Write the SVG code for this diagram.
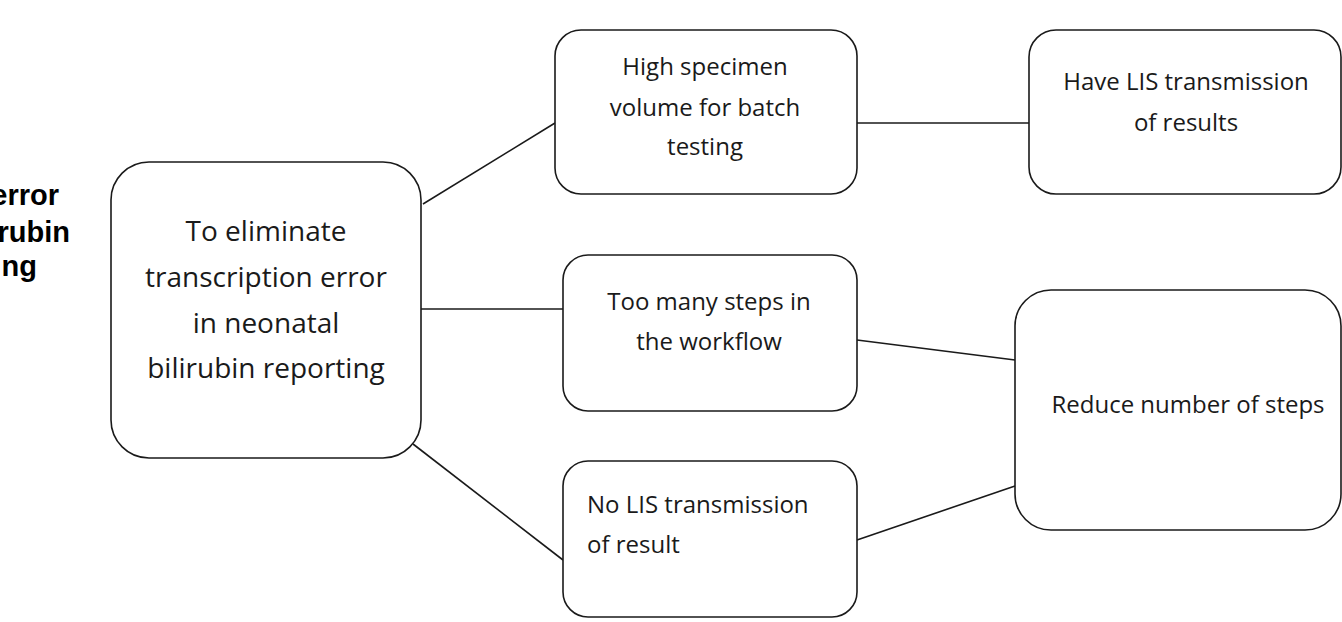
<svg xmlns="http://www.w3.org/2000/svg" width="1342" height="622" viewBox="0 0 1342 622">
<style>
.box{fill:#ffffff;stroke:#1a1a1a;stroke-width:1.6}
.conn{stroke:#1a1a1a;stroke-width:1.6;fill:none}
.t{font-family:"Open Sans","DejaVu Sans",sans-serif;fill:#1a1a1a;font-size:24px}
.tm{font-family:"Open Sans","DejaVu Sans",sans-serif;fill:#1a1a1a;font-size:28px;text-anchor:middle}
.c{text-anchor:middle}
.side{font-family:"Liberation Sans",Arial,sans-serif;font-weight:bold;font-size:29px;fill:#000;text-anchor:end}
</style>
<rect width="1342" height="622" fill="#ffffff"/>
<g id="side-title">
<text class="side" x="59" y="205">error</text>
<text class="side" x="70" y="242">rubin</text>
<text class="side" x="37" y="276">ng</text>
</g>
<g id="connectors">
<line class="conn" x1="423" y1="204" x2="555" y2="123"/>
<line class="conn" x1="421" y1="309" x2="563" y2="309"/>
<line class="conn" x1="413" y1="444" x2="563" y2="560"/>
<line class="conn" x1="857" y1="123" x2="1029" y2="123"/>
<line class="conn" x1="857" y1="340" x2="1015" y2="360"/>
<line class="conn" x1="857" y1="540" x2="1015" y2="486"/>
</g>
<g id="goal">
<rect class="box" x="111" y="162" width="310" height="296" rx="38" ry="38"/>
<text class="tm" x="266" y="241">To eliminate</text>
<text class="tm" x="266" y="287">transcription error</text>
<text class="tm" x="266" y="333">in neonatal</text>
<text class="tm" x="266" y="378">bilirubin reporting</text>
</g>
<g id="high-volume">
<rect class="box" x="555" y="30" width="302" height="164" rx="26" ry="26"/>
<text class="t c" x="705" y="75">High specimen</text>
<text class="t c" x="705" y="116">volume for batch</text>
<text class="t c" x="705" y="155">testing</text>
</g>
<g id="have-lis">
<rect class="box" x="1029" y="30" width="312" height="164" rx="27" ry="27"/>
<text class="t c" x="1186" y="90">Have LIS transmission</text>
<text class="t c" x="1186" y="131">of results</text>
</g>
<g id="too-many-steps">
<rect class="box" x="563" y="255" width="294" height="156" rx="25" ry="25"/>
<text class="t c" x="709" y="310">Too many steps in</text>
<text class="t c" x="709" y="350">the workflow</text>
</g>
<g id="no-lis">
<rect class="box" x="563" y="461" width="294" height="156" rx="25" ry="25"/>
<text class="t" x="587" y="513">No LIS transmission</text>
<text class="t" x="587" y="553">of result</text>
</g>
<g id="reduce-steps">
<rect class="box" x="1015" y="290" width="326" height="240" rx="36" ry="36"/>
<text class="t c" x="1188" y="413">Reduce number of steps</text>
</g>
</svg>
